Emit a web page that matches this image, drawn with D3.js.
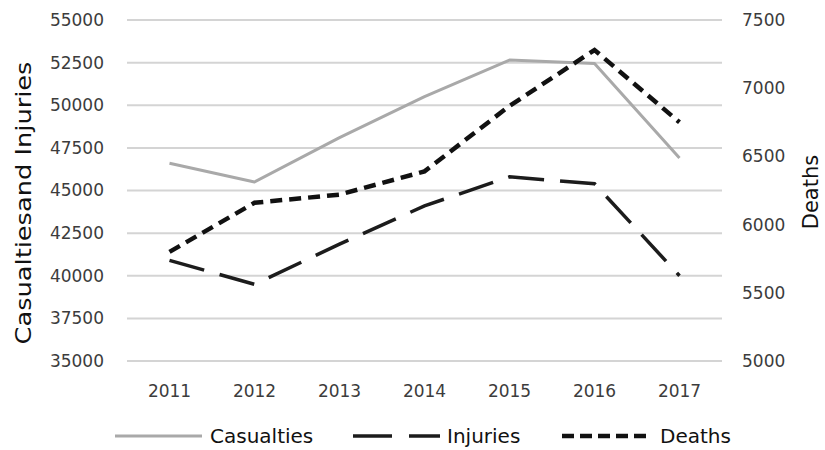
<!DOCTYPE html>
<html>
<head>
<meta charset="utf-8">
<script src="https://cdn.jsdelivr.net/npm/d3@7"></script>
<style>
  html, body { margin: 0; padding: 0; background: #fff; }
  svg { display: block; }
  text { font-family: "DejaVu Sans", sans-serif; }
</style>
</head>
<body>
<svg id="chart" width="825" height="450"></svg>
<script>
// Yearly road-safety figures
const years = ["2011", "2012", "2013", "2014", "2015", "2016", "2017"];
const casualties = [46600, 45500, 48100, 50500, 52650, 52450, 46900];
const injuries = [40900, 39500, 41850, 44100, 45800, 45400, 40000];
const deaths = [5800, 6160, 6220, 6390, 6870, 7280, 6750];

const leftTicks = [35000, 37500, 40000, 42500, 45000, 47500, 50000, 52500, 55000];
const rightTicks = [5000, 5500, 6000, 6500, 7000, 7500];

const svg = d3.select("#chart");
const plot = { left: 127, right: 722, top: 20, bottom: 361 };

const x = d3.scaleBand().domain(years).range([plot.left, plot.right]);
const xc = d => x(d) + x.bandwidth() / 2;
const yL = d3.scaleLinear().domain([35000, 55000]).range([plot.bottom, plot.top]);
const yR = d3.scaleLinear().domain([5000, 7500]).range([plot.bottom, plot.top]);

// horizontal gridlines
svg.append("g").selectAll("line").data(leftTicks).join("line")
  .attr("x1", plot.left).attr("x2", plot.right)
  .attr("y1", d => yL(d)).attr("y2", d => yL(d))
  .attr("stroke", "#d4d4d4").attr("stroke-width", 2);

// left axis
const axL = svg.append("g").attr("transform", `translate(${plot.left - 23},0)`)
  .call(d3.axisLeft(yL).tickValues(leftTicks).tickFormat(d3.format("d")).tickSize(0).tickPadding(0));
axL.select(".domain").remove();
axL.selectAll("text").attr("font-size", 17).attr("fill", "#3c3c3c")
  .attr("font-family", "DejaVu Sans");

// right axis
const axR = svg.append("g").attr("transform", `translate(${plot.right + 20},0)`)
  .call(d3.axisRight(yR).tickValues(rightTicks).tickFormat(d3.format("d")).tickSize(0).tickPadding(0));
axR.select(".domain").remove();
axR.selectAll("text").attr("font-size", 17).attr("fill", "#3c3c3c")
  .attr("font-family", "DejaVu Sans");

// bottom axis
const axB = svg.append("g").attr("transform", `translate(0,${plot.bottom + 20})`)
  .call(d3.axisBottom(x).tickSize(0).tickPadding(0));
axB.select(".domain").remove();
axB.selectAll("text").attr("font-size", 17).attr("fill", "#3c3c3c")
  .attr("font-family", "DejaVu Sans").attr("dy", "0.95em");

// axis titles
svg.append("text")
  .attr("transform", "translate(31,203) rotate(-90)")
  .attr("text-anchor", "middle").attr("font-size", 21).attr("fill", "#111")
  .attr("textLength", 283).attr("lengthAdjust", "spacingAndGlyphs")
  .text("Casualtiesand Injuries");
svg.append("text")
  .attr("transform", "translate(818,192) rotate(-90)")
  .attr("text-anchor", "middle").attr("font-size", 21).attr("fill", "#111")
  .text("Deaths");

// series lines
const lineL = d3.line().x((d, i) => xc(years[i])).y(d => yL(d));
const lineR = d3.line().x((d, i) => xc(years[i])).y(d => yR(d));

svg.append("path").datum(casualties).attr("d", lineL)
  .attr("fill", "none").attr("stroke", "#a9a9a9").attr("stroke-width", 3)
  .attr("stroke-linejoin", "round");
svg.append("path").datum(injuries).attr("d", lineL)
  .attr("fill", "none").attr("stroke", "#1c1c1c").attr("stroke-width", 3.5)
  .attr("stroke-dasharray", "36 16");
svg.append("path").datum(deaths).attr("d", lineR)
  .attr("fill", "none").attr("stroke", "#111").attr("stroke-width", 4.5)
  .attr("stroke-dasharray", "12 7");

// legend
const legend = [
  { name: "Casualties", x1: 115, x2: 202, tx: 210, stroke: "#a9a9a9", w: 3, dash: null },
  { name: "Injuries", x1: 353, x2: 440, tx: 447, stroke: "#1c1c1c", w: 3.5, dash: "39 17" },
  { name: "Deaths", x1: 562, x2: 650, tx: 660, stroke: "#111", w: 4.5, dash: "12 6" }
];
const lg = svg.append("g");
legend.forEach(l => {
  lg.append("line").attr("x1", l.x1).attr("x2", l.x2).attr("y1", 436).attr("y2", 436)
    .attr("stroke", l.stroke).attr("stroke-width", l.w)
    .attr("stroke-dasharray", l.dash);
  lg.append("text").attr("x", l.tx).attr("y", 443).attr("font-size", 20)
    .attr("fill", "#111").text(l.name);
});
</script>
</body>
</html>
